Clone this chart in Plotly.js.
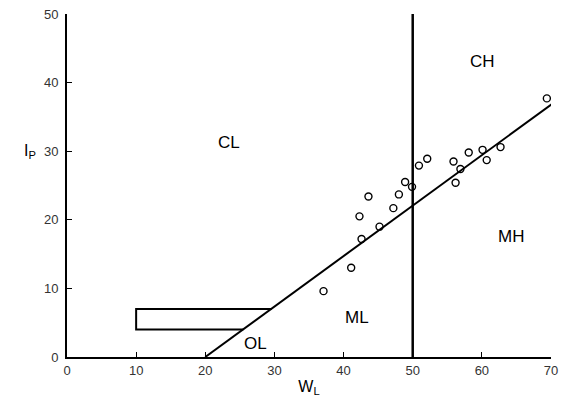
<!DOCTYPE html>
<html>
<head>
<meta charset="utf-8">
<script src="https://cdn.plot.ly/plotly-3.0.1.min.js"></script>
<style>html,body{margin:0;padding:0;background:#fff;}#chart{width:566px;height:402px;}</style>
</head>
<body>
<div id="chart"></div>
<script>
// Liquid limit (W_L) and plasticity index (I_P) of samples
var sampleWL = [37.1, 41.1, 42.6, 42.3, 43.6, 45.2, 47.2, 48.0, 48.9, 49.9, 50.9, 52.1, 55.9, 56.2, 56.9, 58.1, 60.1, 60.7, 62.7, 69.4];
var sampleIP = [9.6, 13.0, 17.2, 20.5, 23.4, 19.0, 21.7, 23.7, 25.5, 24.8, 27.9, 28.9, 28.5, 25.4, 27.4, 29.8, 30.2, 28.7, 30.6, 37.7];

// A-line: I_P = 0.73 (W_L - 20)
var aLineWL = [20, 70.3];
var aLineIP = [0, 37.0];

// Vertical boundary at W_L = 50
var bWL = [50, 50];
var bIP = [0, 50];

// CL-ML zone outline (I_P 4 to 7)
var zoneWL = [29.6, 10, 10, 25.5];
var zoneIP = [7, 7, 4, 4];

// Zone labels
var zoneNames = ["CH", "CL", "MH", "ML", "OL"];
var zoneNameWL = [60.1, 23.5, 64.2, 42.0, 27.2];
var zoneNameIP = [43.1, 31.2, 17.5, 5.8, 1.9];

var xTicks = [0, 10, 20, 30, 40, 50, 60, 70];
var yTicks = [0, 10, 20, 30, 40, 50];

var lineStyle = {color: '#000', width: 2};
var traces = [
  {x: aLineWL, y: aLineIP, mode: 'lines', line: lineStyle, hoverinfo: 'skip'},
  {x: bWL, y: bIP, mode: 'lines', line: {color: '#000', width: 2.5}, hoverinfo: 'skip'},
  {x: zoneWL, y: zoneIP, mode: 'lines', line: lineStyle, hoverinfo: 'skip'},
  {x: sampleWL, y: sampleIP, mode: 'markers',
   marker: {symbol: 'circle-open', size: 7, color: '#000', line: {width: 1.4, color: '#000'}}}
];

var annotations = zoneNames.map(function (t, i) {
  return {x: zoneNameWL[i], y: zoneNameIP[i], text: t, showarrow: false,
          font: {size: 17, color: '#000', family: 'Liberation Sans, Arial, sans-serif'}};
});
annotations.push({xref: 'paper', yref: 'paper', x: -0.06, y: 0.6, xanchor: 'right', yanchor: 'middle',
  text: 'I<sub>P</sub>', showarrow: false, font: {size: 16, color: '#000', family: 'Liberation Sans, Arial, sans-serif'}});

var layout = {
  width: 566, height: 402,
  margin: {l: 67, r: 15, t: 14, b: 45},
  paper_bgcolor: '#fff', plot_bgcolor: '#fff',
  showlegend: false,
  font: {family: 'Liberation Sans, Arial, sans-serif', color: '#000', size: 12},
  xaxis: {
    range: [0, 70], tickvals: xTicks, ticktext: xTicks.map(String),
    showgrid: false, zeroline: false, showline: true, linecolor: '#000', linewidth: 2,
    ticks: 'inside', ticklen: 5, tickcolor: '#000', tickwidth: 1,
    tickfont: {size: 13, color: '#333'},
    title: {text: 'W<sub>L</sub>', font: {size: 16, color: '#000'}, standoff: 4}
  },
  yaxis: {
    range: [0, 50], tickvals: yTicks, ticktext: yTicks.map(String),
    showgrid: false, zeroline: false, showline: true, linecolor: '#000', linewidth: 2,
    ticks: 'inside', ticklen: 5, tickcolor: '#000', tickwidth: 1,
    ticklabelstandoff: 4,
    tickfont: {size: 13, color: '#333'}
  },
  annotations: annotations
};

Plotly.newPlot('chart', traces, layout, {displayModeBar: false, staticPlot: true});
</script>
</body>
</html>
